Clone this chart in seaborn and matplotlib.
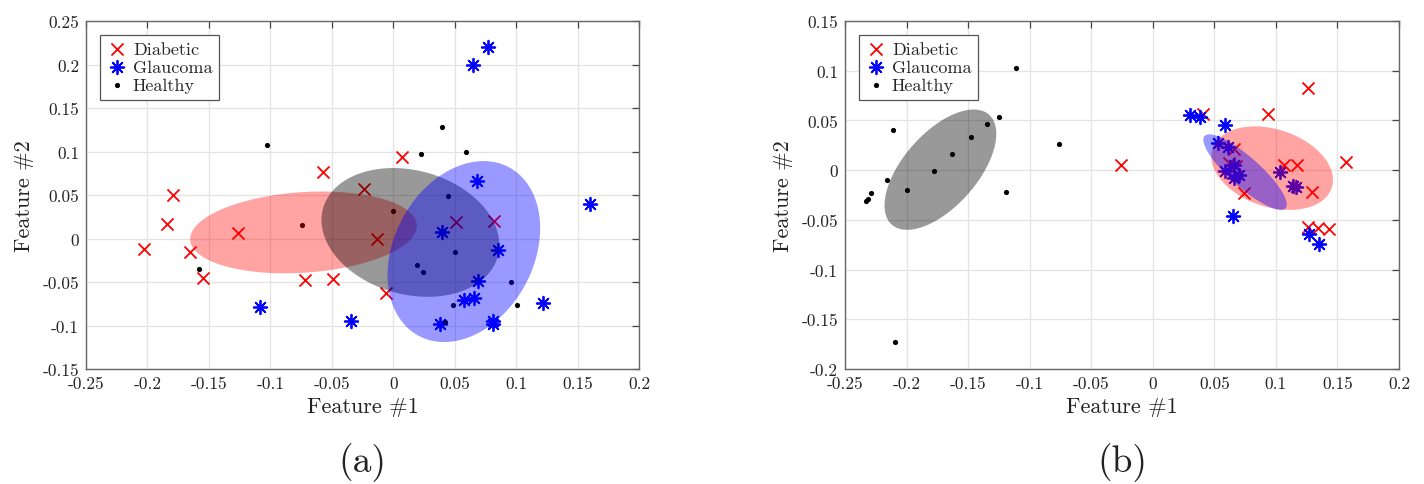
import numpy as np
import pandas as pd
import seaborn as sns
import matplotlib.pyplot as plt
from matplotlib.ticker import FuncFormatter, MultipleLocator

# ---- panel (a) values ----
a_diab_x = [-0.203, -0.184, -0.179, -0.165, -0.155, -0.126, -0.072, -0.057, -0.049,
            -0.024, -0.013, -0.006, 0.007, 0.051, 0.082]
a_diab_y = [-0.012, 0.017, 0.050, -0.016, -0.045, 0.006, -0.048, 0.077, -0.047,
            0.057, 0.000, -0.063, 0.094, 0.019, 0.020]
a_glau_x = [0.077, 0.065, 0.068, 0.160, 0.040, 0.085, 0.069, 0.058, 0.066,
            0.122, 0.038, 0.081, 0.081, -0.108, -0.034]
a_glau_y = [0.220, 0.200, 0.066, 0.040, 0.008, -0.013, -0.049, -0.071, -0.068,
            -0.074, -0.098, -0.095, -0.098, -0.079, -0.095]
a_heal_x = [-0.103, -0.074, -0.158, 0.040, 0.023, 0.059, 0.045, 0.000, 0.050,
            0.019, 0.024, 0.096, 0.049, 0.101, 0.042]
a_heal_y = [0.107, 0.016, -0.035, 0.128, 0.097, 0.099, 0.049, 0.032, -0.016,
            -0.031, -0.039, -0.050, -0.076, -0.077, -0.096]

# ---- panel (b) values ----
b_diab_x = [-0.0255, 0.126, 0.094, 0.041, 0.066, 0.062, 0.107, 0.117, 0.157,
            0.074, 0.129, 0.126, 0.134, 0.143, 0.068]
b_diab_y = [0.0055, 0.083, 0.056, 0.056, 0.021, 0.007, 0.0055, 0.0055, 0.008,
            -0.023, -0.022, -0.057, -0.058, -0.059, 0.004]
b_glau_x = [0.030, 0.038, 0.059, 0.053, 0.061, 0.066, 0.059, 0.070, 0.066,
            0.103, 0.114, 0.116, 0.065, 0.127, 0.135]
b_glau_y = [0.055, 0.053, 0.045, 0.027, 0.023, 0.0055, -0.0005, -0.0045, -0.008,
            -0.002, -0.016, -0.017, -0.046, -0.064, -0.074]
b_heal_x = [-0.111, -0.211, -0.125, -0.135, -0.148, -0.163, -0.178, -0.076, -0.216,
            -0.200, -0.119, -0.229, -0.233, -0.231, -0.209]
b_heal_y = [0.103, 0.040, 0.053, 0.046, 0.033, 0.016, -0.001, 0.026, -0.010,
            -0.020, -0.022, -0.023, -0.031, -0.029, -0.173]

# ellipses: centre, offset of top point, half width through centre
a_ellipses = {
    "Diabetic": [(-0.073, 0.007), (0.015, 0.047), 0.091],
    "Healthy": [(0.014, 0.007), (-0.014, 0.074), 0.071],
    "Glaucoma": [(0.0575, -0.015), (0.016, 0.104), 0.060],
}
b_ellipses = {
    "Healthy": [(-0.1725, 0.0005), (0.027, 0.0605), 0.0365],
    "Diabetic": [(0.097, 0.002), (-0.014, 0.042), 0.0474],
    "Glaucoma": [(0.075, -0.002), (-0.029, 0.038), 0.0175],
}

classes = ["Diabetic", "Glaucoma", "Healthy"]
colors = {"Diabetic": "#ff0000", "Glaucoma": "#0000ff", "Healthy": "#000000"}
fill_alpha = {"Diabetic": 0.36, "Glaucoma": 0.40, "Healthy": 0.40}


def make_df(dx, dy, gx, gy, hx, hy):
    return pd.DataFrame({
        "f1": dx + gx + hx,
        "f2": dy + gy + hy,
        "cls": ["Diabetic"] * len(dx) + ["Glaucoma"] * len(gx) + ["Healthy"] * len(hx),
    })


df_a = make_df(a_diab_x, a_diab_y, a_glau_x, a_glau_y, a_heal_x, a_heal_y)
df_b = make_df(b_diab_x, b_diab_y, b_glau_x, b_glau_y, b_heal_x, b_heal_y)

sns.set_style("white")
plt.rcParams["font.family"] = ["cmr10", "DejaVu Serif"]
plt.rcParams["mathtext.fontset"] = "cm"
plt.rcParams["axes.unicode_minus"] = False
plt.rcParams["axes.formatter.use_mathtext"] = True

fig = plt.figure(figsize=(14.24, 4.85), dpi=100)
ax_a = fig.add_axes([0.0604, 0.2371, 0.3883, 0.7175])
ax_b = fig.add_axes([0.5934, 0.2371, 0.3890, 0.7175])

fmt = FuncFormatter(lambda v, p: "%g" % round(v, 4))


def draw(ax, df, ells, ylim, letter):
    for c in classes:
        sub = df[df.cls == c]
        if c == "Diabetic":
            sns.scatterplot(data=sub, x="f1", y="f2", marker="x", color=colors[c],
                            s=75, linewidth=1.3, label=c, ax=ax, zorder=2)
        elif c == "Glaucoma":
            sns.scatterplot(data=sub, x="f1", y="f2", marker=(8, 2, 0), color=colors[c],
                            s=95, linewidth=1.3, label=c, ax=ax, zorder=2)
        else:
            sns.scatterplot(data=sub, x="f1", y="f2", marker="o", color=colors[c],
                            s=14, linewidth=0, label=c, ax=ax, zorder=2)
    t = np.linspace(0, 2 * np.pi, 300)
    for c, (cen, u, v) in ells.items():
        ex = cen[0] + u[0] * np.sin(t) + v * np.cos(t)
        ey = cen[1] + u[1] * np.sin(t)
        ax.fill(ex, ey, color=colors[c], alpha=fill_alpha[c], lw=0, zorder=3)

    ax.set_xlim(-0.25, 0.2)
    ax.set_ylim(*ylim)
    ax.xaxis.set_major_locator(MultipleLocator(0.05))
    ax.yaxis.set_major_locator(MultipleLocator(0.05))
    ax.xaxis.set_major_formatter(fmt)
    ax.yaxis.set_major_formatter(fmt)
    ax.grid(True, color="#e3e3e3", lw=0.9, zorder=0)
    ax.set_axisbelow(True)
    ax.tick_params(direction="in", length=5, width=0.9, top=True, right=True,
                   labelsize=12.5, colors="#444444", labelcolor="#222222", pad=5)
    for s in ax.spines.values():
        s.set_color("#666666")
        s.set_linewidth(1.0)
    ax.set_xlabel("Feature #1", fontsize=16, color="#222222", labelpad=4)
    ax.set_ylabel("Feature #2", fontsize=16, color="#222222", labelpad=6)
    leg = ax.legend(loc="upper left", fontsize=13, frameon=True, fancybox=False,
                    framealpha=1, edgecolor="#555555", borderaxespad=0.75,
                    handletextpad=0.3, labelspacing=0.15, borderpad=0.35,
                    handlelength=1.2)
    leg.get_frame().set_linewidth(0.9)
    leg.set_zorder(5)
    bb = ax.get_position()
    fig.text((bb.x0 + bb.x1) / 2, 0.047, letter, ha="center", va="center",
             fontsize=27, color="#222222")


draw(ax_a, df_a, a_ellipses, (-0.15, 0.25), "(a)")
draw(ax_b, df_b, b_ellipses, (-0.2, 0.15), "(b)")

fig.savefig("out.png", dpi=100)
